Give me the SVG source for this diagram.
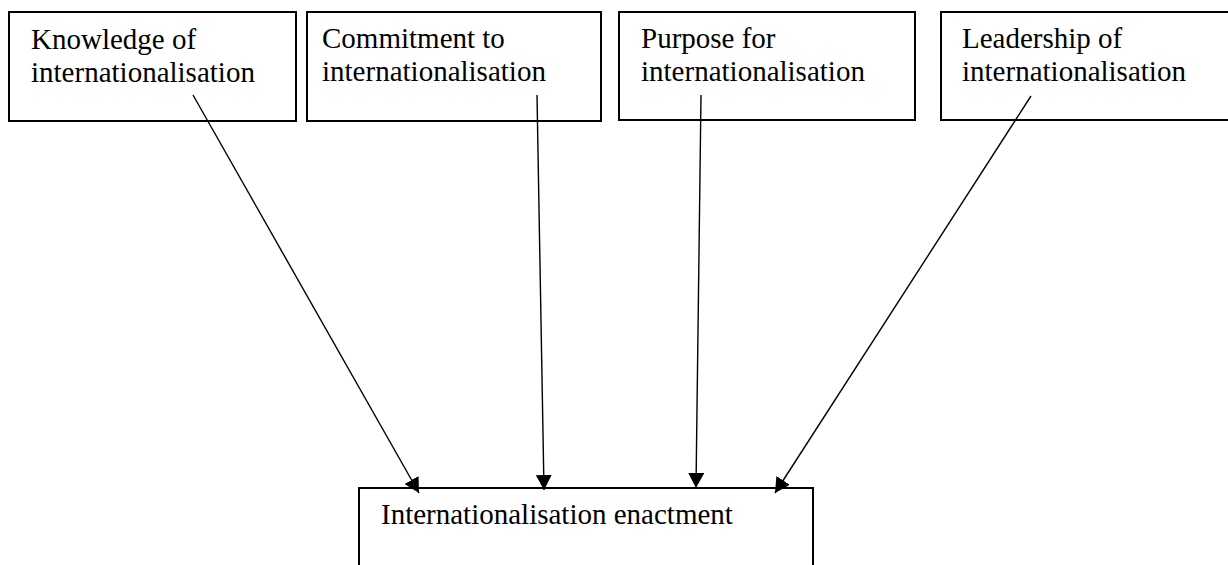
<svg xmlns="http://www.w3.org/2000/svg" width="1228" height="565" viewBox="0 0 1228 565">
  <style>
    .box { fill: #ffffff; stroke: #000000; stroke-width: 2; }
    .label { font-family: "Liberation Serif", "Times New Roman", serif; font-size: 29px; fill: #000000; }
    .link { stroke: #000000; stroke-width: 1.4; fill: none; marker-end: url(#head); }
  </style>
  <defs>
    <marker id="head" markerUnits="userSpaceOnUse" markerWidth="15" markerHeight="16" viewBox="0 0 15 16" refX="15" refY="8" orient="auto">
      <path d="M0,0 L15,8 L0,16 Z" fill="#000000"/>
    </marker>
  </defs>
  <rect width="1228" height="565" fill="#ffffff"/>

  <g id="knowledge">
    <rect class="box" x="9" y="12" width="287" height="109"/>
    <text class="label" x="31" y="49">Knowledge of</text>
    <text class="label" x="31" y="82">internationalisation</text>
  </g>

  <g id="commitment">
    <rect class="box" x="307" y="12" width="294" height="109"/>
    <text class="label" x="322" y="48">Commitment to</text>
    <text class="label" x="322" y="81">internationalisation</text>
  </g>

  <g id="purpose">
    <rect class="box" x="619" y="12" width="296" height="108"/>
    <text class="label" x="641" y="48">Purpose for</text>
    <text class="label" x="641" y="81">internationalisation</text>
  </g>

  <g id="leadership">
    <rect class="box" x="941" y="12" width="300" height="108"/>
    <text class="label" x="962" y="48">Leadership of</text>
    <text class="label" x="962" y="81">internationalisation</text>
  </g>

  <g id="enactment">
    <rect class="box" x="359" y="488" width="454" height="100"/>
    <text class="label" x="381" y="524">Internationalisation enactment</text>
  </g>

  <g id="connectors">
    <line class="link" x1="193" y1="95" x2="419" y2="493"/>
    <line class="link" x1="537" y1="95" x2="544" y2="490"/>
    <line class="link" x1="701" y1="95" x2="696" y2="488"/>
    <line class="link" x1="1031" y1="96" x2="775" y2="493"/>
  </g>
</svg>
